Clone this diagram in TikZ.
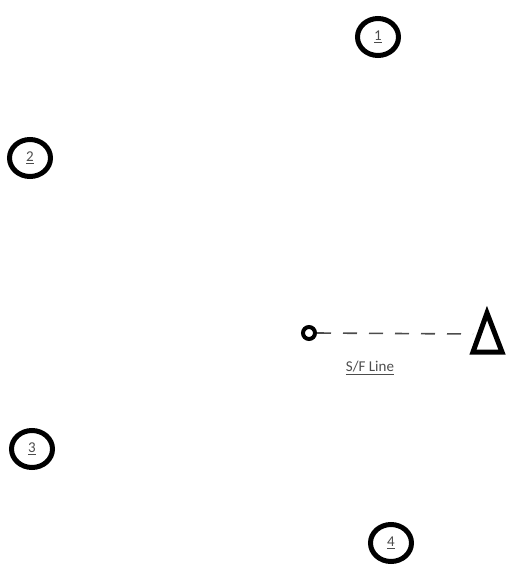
\documentclass[tikz,border=0pt]{standalone}
\usepackage{fontspec}
\setmainfont{Carlito}
\usetikzlibrary{shapes.geometric}
\begin{document}
\begin{tikzpicture}[x=1pt,y=-1pt,
  numcirc/.style={draw=black,line width=5pt,ellipse,minimum width=41pt,minimum height=37pt,inner sep=0pt,font=\fontsize{15}{18}\selectfont,text=black!70},
  lbl/.style={font=\fontsize{15}{18}\selectfont,text=black!70}]
\useasboundingbox (0,0) rectangle (506,566);
\node[numcirc] (n1) at (378,37) {\underline{1}};
\node[numcirc] (n2) at (30,158) {\underline{2}};
\node[numcirc] (n3) at (32,449) {\underline{3}};
\node[numcirc] (n4) at (391,543) {\underline{4}};
\node[draw=black,line width=4pt,circle,minimum size=12pt,inner sep=0pt] (sf) at (309,333) {};
\coordinate (tb) at (473,334);
\draw[line width=1.6pt,dash pattern=on 14pt off 12pt,black!70] (sf.east) -- (tb);
\draw[line width=5pt,line join=miter] (487,313) -- (502,352) -- (473,352) -- cycle;
\node[lbl] (sfl) at (370,368) {\underline{S/F Line}};
\end{tikzpicture}
\end{document}
